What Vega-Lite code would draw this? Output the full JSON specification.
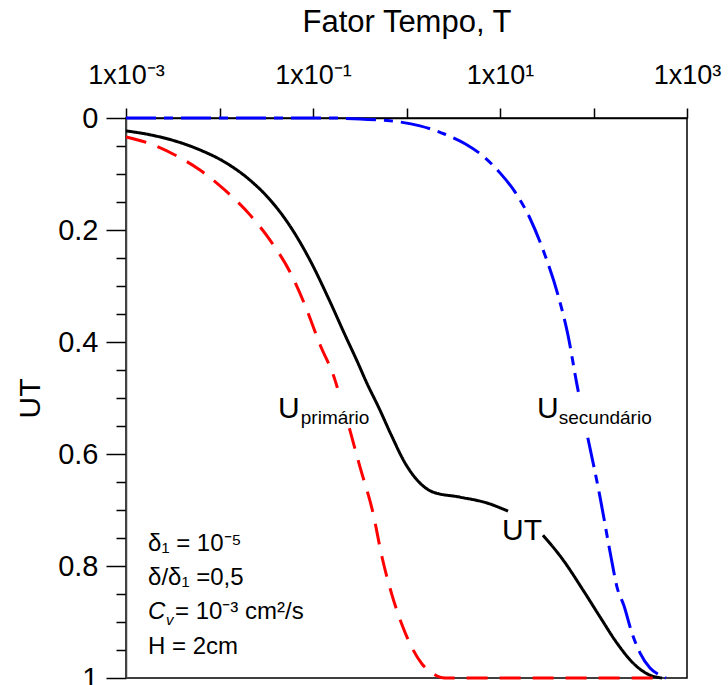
{
  "$schema": "https://vega.github.io/schema/vega-lite/v6.json",
  "width": 561,
  "height": 560,
  "autosize": {"type": "none"},
  "padding": {"left": 126, "top": 118, "right": 41, "bottom": 7},
  "background": "white",
  "config": {
    "font": "Liberation Sans",
    "view": {"stroke": "black", "strokeWidth": 1.5}
  },
  "datasets": {
    "curves": [
      {"series": "UT", "seg": "UT-a", "T": 0.001, "UT": 0.023},
      {"series": "UT", "seg": "UT-a", "T": 0.00181, "UT": 0.030},
      {"series": "UT", "seg": "UT-a", "T": 0.00334, "UT": 0.041},
      {"series": "UT", "seg": "UT-a", "T": 0.00618, "UT": 0.057},
      {"series": "UT", "seg": "UT-a", "T": 0.01145, "UT": 0.079},
      {"series": "UT", "seg": "UT-a", "T": 0.0212, "UT": 0.111},
      {"series": "UT", "seg": "UT-a", "T": 0.0347, "UT": 0.146},
      {"series": "UT", "seg": "UT-a", "T": 0.0568, "UT": 0.193},
      {"series": "UT", "seg": "UT-a", "T": 0.0929, "UT": 0.254},
      {"series": "UT", "seg": "UT-a", "T": 0.152, "UT": 0.328},
      {"series": "UT", "seg": "UT-a", "T": 0.220, "UT": 0.3875},
      {"series": "UT", "seg": "UT-a", "T": 0.296, "UT": 0.434},
      {"series": "UT", "seg": "UT-a", "T": 0.378, "UT": 0.474},
      {"series": "UT", "seg": "UT-a", "T": 0.508, "UT": 0.518},
      {"series": "UT", "seg": "UT-a", "T": 0.682, "UT": 0.565},
      {"series": "UT", "seg": "UT-a", "T": 0.964, "UT": 0.616},
      {"series": "UT", "seg": "UT-a", "T": 1.394, "UT": 0.652},
      {"series": "UT", "seg": "UT-a", "T": 1.92, "UT": 0.668},
      {"series": "UT", "seg": "UT-a", "T": 3.73, "UT": 0.677},
      {"series": "UT", "seg": "UT-a", "T": 7.26, "UT": 0.6875},
      {"series": "UT", "seg": "UT-a", "T": 12.19, "UT": 0.702},
      {"series": "UT", "seg": "UT-b", "T": 28.8, "UT": 0.745},
      {"series": "UT", "seg": "UT-b", "T": 47.2, "UT": 0.789},
      {"series": "UT", "seg": "UT-b", "T": 77.3, "UT": 0.843},
      {"series": "UT", "seg": "UT-b", "T": 117.5, "UT": 0.891},
      {"series": "UT", "seg": "UT-b", "T": 178, "UT": 0.9375},
      {"series": "UT", "seg": "UT-b", "T": 264, "UT": 0.973},
      {"series": "UT", "seg": "UT-b", "T": 402, "UT": 0.995},
      {"series": "UT", "seg": "UT-b", "T": 541, "UT": 1.0},

      {"series": "primario", "seg": "P-a", "T": 0.001, "UT": 0.034},
      {"series": "primario", "seg": "P-a", "T": 0.00181, "UT": 0.046},
      {"series": "primario", "seg": "P-a", "T": 0.00334, "UT": 0.066},
      {"series": "primario", "seg": "P-a", "T": 0.00618, "UT": 0.093},
      {"series": "primario", "seg": "P-a", "T": 0.01145, "UT": 0.129},
      {"series": "primario", "seg": "P-a", "T": 0.0212, "UT": 0.173},
      {"series": "primario", "seg": "P-a", "T": 0.0347, "UT": 0.218},
      {"series": "primario", "seg": "P-a", "T": 0.0568, "UT": 0.275},
      {"series": "primario", "seg": "P-a", "T": 0.0820, "UT": 0.334},
      {"series": "primario", "seg": "P-a", "T": 0.119, "UT": 0.405},
      {"series": "primario", "seg": "P-a", "T": 0.172, "UT": 0.468},
      {"series": "primario", "seg": "P-a", "T": 0.1824, "UT": 0.482},
      {"series": "primario", "seg": "P-b", "T": 0.245, "UT": 0.554},
      {"series": "primario", "seg": "P-b", "T": 0.318, "UT": 0.623},
      {"series": "primario", "seg": "P-b", "T": 0.438, "UT": 0.705},
      {"series": "primario", "seg": "P-b", "T": 0.547, "UT": 0.784},
      {"series": "primario", "seg": "P-b", "T": 0.700, "UT": 0.852},
      {"series": "primario", "seg": "P-b", "T": 0.895, "UT": 0.905},
      {"series": "primario", "seg": "P-b", "T": 1.145, "UT": 0.946},
      {"series": "primario", "seg": "P-b", "T": 1.465, "UT": 0.975},
      {"series": "primario", "seg": "P-b", "T": 1.875, "UT": 0.991},
      {"series": "primario", "seg": "P-b", "T": 2.58, "UT": 1.0},
      {"series": "primario", "seg": "P-b", "T": 541, "UT": 1.0},

      {"series": "secundario", "seg": "S-a", "T": 0.001, "UT": 0.0},
      {"series": "secundario", "seg": "S-a", "T": 0.152, "UT": 0.0},
      {"series": "secundario", "seg": "S-a", "T": 0.318, "UT": 0.002},
      {"series": "secundario", "seg": "S-a", "T": 0.667, "UT": 0.005},
      {"series": "secundario", "seg": "S-a", "T": 1.394, "UT": 0.014},
      {"series": "secundario", "seg": "S-a", "T": 2.58, "UT": 0.029},
      {"series": "secundario", "seg": "S-a", "T": 4.23, "UT": 0.046},
      {"series": "secundario", "seg": "S-a", "T": 6.92, "UT": 0.071},
      {"series": "secundario", "seg": "S-a", "T": 10.0, "UT": 0.098},
      {"series": "secundario", "seg": "S-a", "T": 14.46, "UT": 0.132},
      {"series": "secundario", "seg": "S-a", "T": 20.9, "UT": 0.179},
      {"series": "secundario", "seg": "S-a", "T": 30.3, "UT": 0.245},
      {"series": "secundario", "seg": "S-a", "T": 41.7, "UT": 0.316},
      {"series": "secundario", "seg": "S-a", "T": 53.3, "UT": 0.3875},
      {"series": "secundario", "seg": "S-a", "T": 66.7, "UT": 0.477},
      {"series": "secundario", "seg": "S-a", "T": 68.9, "UT": 0.489},
      {"series": "secundario", "seg": "S-b", "T": 86.9, "UT": 0.571},
      {"series": "secundario", "seg": "S-b", "T": 117.5, "UT": 0.677},
      {"series": "secundario", "seg": "S-b", "T": 153.9, "UT": 0.784},
      {"series": "secundario", "seg": "S-b", "T": 178.3, "UT": 0.8375},
      {"series": "secundario", "seg": "S-b", "T": 211.8, "UT": 0.871},
      {"series": "secundario", "seg": "S-b", "T": 258.2, "UT": 0.920},
      {"series": "secundario", "seg": "S-b", "T": 314, "UT": 0.955},
      {"series": "secundario", "seg": "S-b", "T": 402, "UT": 0.982},
      {"series": "secundario", "seg": "S-b", "T": 514, "UT": 0.995},
      {"series": "secundario", "seg": "S-b", "T": 596, "UT": 1.0}
    ],
    "curveNames": [
      {"T": 0.0423, "UT": 0.536, "text": "U"},
      {"T": 24.9, "UT": 0.536, "text": "U"},
      {"T": 10.5, "UT": 0.754, "text": "UT"}
    ],
    "curveSubs": [
      {"T": 0.0740, "UT": 0.546, "text": "primário"},
      {"T": 42.5, "UT": 0.546, "text": "secundário"}
    ],
    "params": [
      {"T": 0.00172, "UT": 0.773, "text": "δ₁ = 10⁻⁵"},
      {"T": 0.00172, "UT": 0.834, "text": "δ/δ₁ =0,5"},
      {"T": 0.00334, "UT": 0.895, "text": "= 10⁻³ cm²/s"},
      {"T": 0.00172, "UT": 0.957, "text": "H = 2cm"}
    ],
    "paramSymbol": [
      {"T": 0.00172, "UT": 0.895, "text": "C"}
    ],
    "paramSub": [
      {"T": 0.00268, "UT": 0.905, "text": "v"}
    ]
  },
  "encoding": {
    "x": {
      "field": "T",
      "type": "quantitative",
      "scale": {"type": "log", "domain": [0.001, 1000], "nice": false},
      "axis": {
        "orient": "top",
        "title": "Fator Tempo, T",
        "titleFontSize": 31,
        "titleFontWeight": "normal",
        "titleColor": "black",
        "titlePadding": 23,
        "values": [0.001, 0.01, 0.1, 1, 10, 100, 1000],
        "labelExpr": "datum.value < 0.002 ? '1x10⁻³' : (datum.value > 0.05 && datum.value < 0.2) ? '1x10⁻¹' : (datum.value > 5 && datum.value < 20) ? '1x10¹' : datum.value > 500 ? '1x10³' : ''",
        "labelFontSize": 27,
        "labelColor": "black",
        "labelPadding": 19,
        "labelFlush": false,
        "labelOverlap": false,
        "tickSize": 10,
        "tickColor": "black",
        "tickWidth": 1.5,
        "domainColor": "black",
        "domainWidth": 1.5,
        "grid": false
      }
    },
    "y": {
      "field": "UT",
      "type": "quantitative",
      "scale": {"domain": [0, 1], "reverse": true, "nice": false, "zero": false},
      "axis": {
        "title": "UT",
        "titleFontSize": 30,
        "titleFontWeight": "normal",
        "titleColor": "black",
        "titlePadding": 12,
        "values": [0, 0.05, 0.1, 0.15, 0.2, 0.25, 0.3, 0.35, 0.4, 0.45, 0.5, 0.55, 0.6, 0.65, 0.7, 0.75, 0.8, 0.85, 0.9, 0.95, 1],
        "labelExpr": "abs(datum.value * 5 - round(datum.value * 5)) < 0.001 ? format(datum.value, '~g') : ''",
        "labelFontSize": 29,
        "labelColor": "black",
        "labelPadding": 8,
        "labelFlush": false,
        "labelOverlap": false,
        "tickSize": {"condition": {"test": "abs(datum.value * 5 - round(datum.value * 5)) < 0.001", "value": 20}, "value": 10},
        "tickColor": "black",
        "tickWidth": 1.5,
        "domainColor": "#444444",
        "domainWidth": 1.5,
        "grid": false
      }
    }
  },
  "layer": [
    {
      "data": {"name": "curves"},
      "mark": {"type": "line", "strokeWidth": 3, "interpolate": "monotone"},
      "encoding": {
        "detail": {"field": "seg"},
        "color": {
          "field": "series",
          "type": "nominal",
          "scale": {"domain": ["UT", "primario", "secundario"], "range": ["black", "#ff0000", "#0000ff"]},
          "legend": null
        },
        "strokeDash": {
          "field": "series",
          "type": "nominal",
          "scale": {"domain": ["UT", "primario", "secundario"], "range": [[1, 0], [21, 12], [30, 8, 9, 8]]},
          "legend": null
        }
      }
    },
    {
      "data": {"name": "curveNames"},
      "mark": {"type": "text", "align": "left", "baseline": "alphabetic", "fontSize": 30, "color": "black"},
      "encoding": {"text": {"field": "text"}}
    },
    {
      "data": {"name": "curveSubs"},
      "mark": {"type": "text", "align": "left", "baseline": "alphabetic", "fontSize": 19, "color": "black"},
      "encoding": {"text": {"field": "text"}}
    },
    {
      "data": {"name": "params"},
      "mark": {"type": "text", "align": "left", "baseline": "alphabetic", "fontSize": 24, "color": "black"},
      "encoding": {"text": {"field": "text"}}
    },
    {
      "data": {"name": "paramSymbol"},
      "mark": {"type": "text", "align": "left", "baseline": "alphabetic", "fontSize": 24, "fontStyle": "italic", "color": "black"},
      "encoding": {"text": {"field": "text"}}
    },
    {
      "data": {"name": "paramSub"},
      "mark": {"type": "text", "align": "left", "baseline": "alphabetic", "fontSize": 15, "fontStyle": "italic", "color": "black"},
      "encoding": {"text": {"field": "text"}}
    }
  ]
}
